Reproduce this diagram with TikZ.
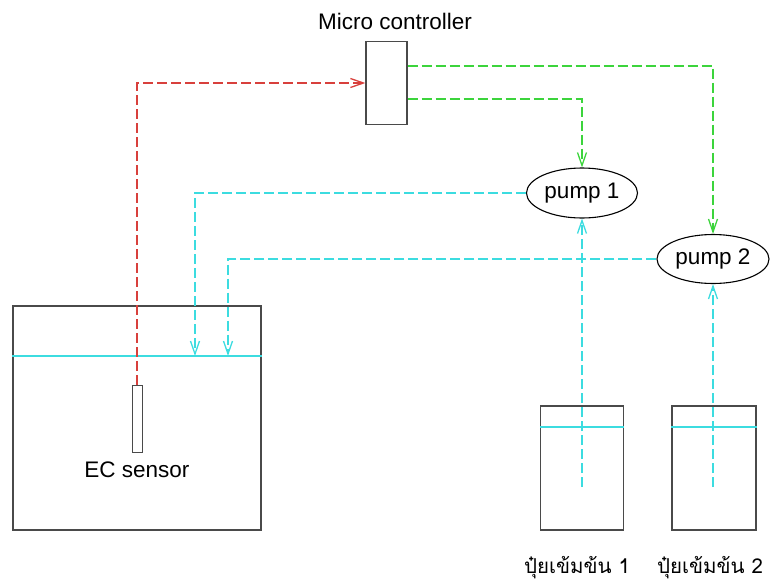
\documentclass[tikz,border=0pt]{standalone}
\usepackage{fontspec}
\setmainfont{Liberation Sans}
\newfontfamily\thaifont[Script=Thai]{Loma}
\usetikzlibrary{positioning,arrows.meta,shapes.geometric,calc}
\definecolor{rojo}{HTML}{D8403C}
\definecolor{verde}{HTML}{3CD43C}
\definecolor{cian}{HTML}{3CDCE0}
\definecolor{gris}{HTML}{4A4A4A}

\begin{document}
\begin{tikzpicture}[x=1pt, y=-1pt, font=\fontsize{22.5}{26}\selectfont,
      >={Straight Barb[length=13pt, width=9pt]},
      caja/.style={draw=gris, line width=1.2pt, minimum width=#1},
      caja/.default=10pt,
      bomba/.style={ellipse, draw=black, line width=1.1pt, minimum width=111pt,
                    minimum height=50pt, inner sep=0pt},
      senal/.style={->, line width=1.3pt, dash pattern=on 10pt off 4pt},
      agua/.style={draw=cian, line width=1.4pt},
      tailbl/.style={font=\thaifont\fontsize{20.5}{24}\selectfont}]
    \useasboundingbox (0,0) rectangle (772,587);
    \node[caja=41pt, minimum height=83pt] (mcu) at (386.5,83) {};
    \node (mculbl) at (395,21) {Micro controller};
    \node[bomba] (pump1) at (582,193) {pump 1};
    \node[bomba, minimum width=112pt, minimum height=49pt] (pump2) at (713,259) {pump 2};
    \node[caja=248pt, minimum height=224pt] (tank) at (137,418) {};
    \node[caja=10pt, line width=0.9pt, minimum height=67pt] (sensor) at (137,418.5) {};
    \node (ecl) at (137,470) {EC sensor};
    \node[caja=83pt, line width=1.1pt, minimum height=124pt] (bot1) at (582,468) {};
    \node[caja=84pt, line width=1.1pt, minimum height=124pt] (bot2) at (714,468) {};
    \node[tailbl] (botl1) at (577,568) {ปุ๋ยเข้มข้น 1};
    \node[tailbl] (botl2) at (710,568) {ปุ๋ยเข้มข้น 2};
    \coordinate (lvl) at (0,356);
    \coordinate (lvlb) at (0,427);
    \draw[agua] (tank.west |- lvl) -- (tank.east |- lvl);
    \draw[agua] (bot1.west |- lvlb) -- (bot1.east |- lvlb);
    \draw[agua] (bot2.west |- lvlb) -- (bot2.east |- lvlb);
    \coordinate (in1) at (195,356);
    \coordinate (in2) at (228,356);
    \coordinate (suc1) at (582,487);
    \coordinate (suc2) at (713,487);
    \coordinate (out1) at (0,66);
    \coordinate (out2) at (0,99);
    \draw[senal, rojo] (sensor.north) |- (mcu.west);
    \draw[senal, verde] (mcu.east |- out1) -| (pump2.north);
    \draw[senal, verde] (mcu.east |- out2) -| (pump1.north);
    \draw[senal, cian] (pump1.west) -| (in1);
    \draw[senal, cian] (pump2.west) -| (in2);
    \draw[senal, cian] (suc1) -- (pump1.south);
    \draw[senal, cian] (suc2) -- (pump2.south);
\end{tikzpicture}
\end{document}
